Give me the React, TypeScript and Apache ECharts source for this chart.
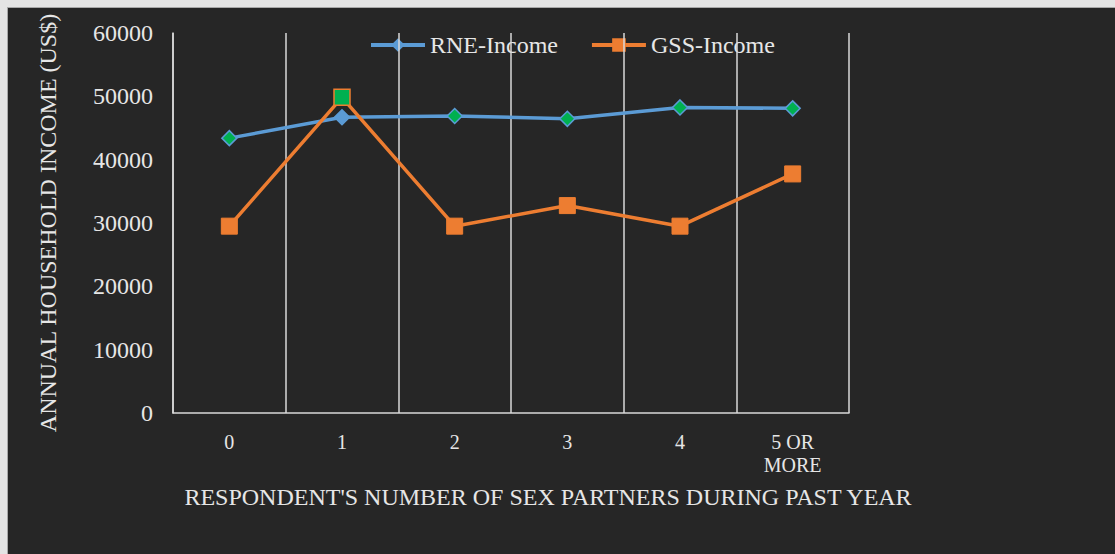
import React, { useEffect, useRef } from "react";
import * as echarts from "echarts";

const categories = ["0", "1", "2", "3", "4", "5 OR\nMORE"];
const rneIncome = [43400, 46700, 46900, 46450, 48250, 48100];
const gssIncome = [29500, 49850, 29500, 32750, 29500, 37750];
const yTicks = { min: 0, max: 60000, interval: 10000 };

const BLUE = "#5B9BD5";
const ORANGE = "#ED7D31";
const GREEN = "#00B050";
const TEXT = "#e6e6e6";
const FONT = "'Liberation Serif', 'Times New Roman', serif";

export default function App() {
  const ref = useRef<HTMLDivElement>(null);

  useEffect(() => {
    if (!ref.current) return;
    const chart = echarts.init(ref.current, undefined, { renderer: "svg" });

    const rneData = rneIncome.map((v, i) => ({
      value: v,
      itemStyle:
        i === 1
          ? { color: BLUE, borderColor: BLUE, borderWidth: 1.5 }
          : { color: GREEN, borderColor: BLUE, borderWidth: 1.5 },
    }));
    const gssData = gssIncome.map((v, i) => ({
      value: v,
      itemStyle:
        i === 1
          ? { color: GREEN, borderColor: ORANGE, borderWidth: 1.5 }
          : { color: ORANGE, borderColor: ORANGE, borderWidth: 1 },
    }));

    chart.setOption({
      animation: false,
      backgroundColor: "#262626",
      textStyle: { fontFamily: FONT, color: TEXT },
      legend: {
        top: 20,
        left: 356,
        z: -1,
        itemWidth: 54,
        itemHeight: 17,
        itemGap: 32,
        lineStyle: { width: 4 },
        textStyle: { fontFamily: FONT, fontSize: 24, color: TEXT },
        data: ["RNE-Income", "GSS-Income"],
      },
      grid: { left: 165, right: 266, top: 25, bottom: 141 },
      xAxis: {
        type: "category",
        data: categories,
        boundaryGap: true,
        axisLine: { lineStyle: { color: "#d9d9d9", width: 1.5 } },
        axisTick: { show: false },
        splitLine: { show: true, lineStyle: { color: "#d9d9d9", width: 1.5 } },
        axisLabel: {
          color: TEXT,
          fontFamily: FONT,
          fontSize: 20,
          lineHeight: 23,
          margin: 17,
        },
      },
      yAxis: {
        type: "value",
        min: yTicks.min,
        max: yTicks.max,
        interval: yTicks.interval,
        axisLine: { show: true, lineStyle: { color: "#d9d9d9", width: 1.5 } },
        axisTick: { show: false },
        splitLine: { show: false },
        axisLabel: {
          color: TEXT,
          fontFamily: FONT,
          fontSize: 24,
          margin: 20,
          formatter: (v: number) => String(v),
        },
        name: "ANNUAL HOUSEHOLD INCOME (US$)",
        nameLocation: "middle",
        nameGap: 113,
        nameRotate: 90,
        nameTextStyle: { color: TEXT, fontFamily: FONT, fontSize: 24 },
      },
      graphic: [
        {
          type: "text",
          x: 540,
          y: 489,
          style: {
            text: "RESPONDENT'S NUMBER OF SEX PARTNERS DURING PAST YEAR",
            fill: TEXT,
            font: `24px ${FONT}`,
            align: "center",
            verticalAlign: "middle",
          },
        },
      ],
      series: [
        {
          name: "RNE-Income",
          type: "line",
          data: rneData,
          symbol: "diamond",
          symbolSize: 15,
          color: BLUE,
          itemStyle: { color: BLUE },
          lineStyle: { color: BLUE, width: 3.5 },
          z: 2,
        },
        {
          name: "GSS-Income",
          type: "line",
          data: gssData,
          symbol: "rect",
          symbolSize: 16,
          color: ORANGE,
          itemStyle: { color: ORANGE },
          lineStyle: { color: ORANGE, width: 3.5 },
          z: 3,
        },
      ],
    });

    return () => chart.dispose();
  }, []);

  return (
    <div
      style={{
        position: "absolute",
        left: 0,
        top: 0,
        width: 1115,
        height: 554,
        background: "#e4e4e4",
      }}
    >
      <div
        ref={ref}
        style={{
          position: "absolute",
          left: 8,
          top: 8,
          width: 1107,
          height: 546,
          boxShadow: "0 0 0 1px #a8a8a8",
        }}
      />
    </div>
  );
}
